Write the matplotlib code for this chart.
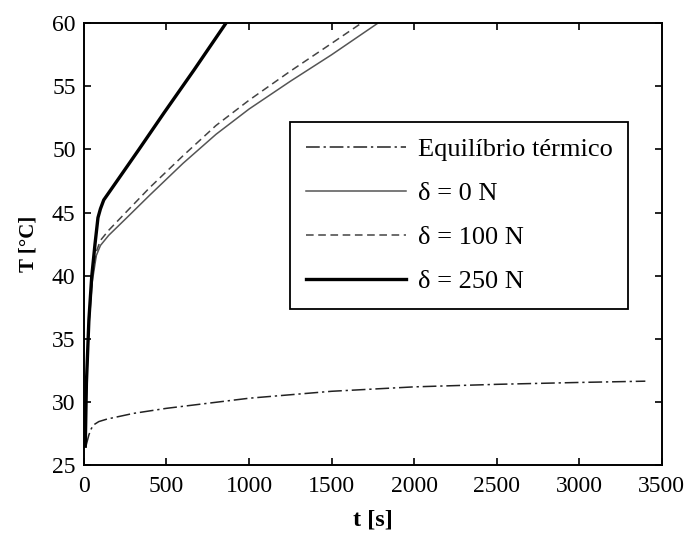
import matplotlib
matplotlib.use("Agg")
import matplotlib.pyplot as plt
import numpy as np

# Equilibrium (equilíbrio térmico)
t_eq = [12, 20, 30, 45, 60, 90, 140, 300, 500, 1000, 1500, 2000, 2500, 3000, 3400]
T_eq = [26.5, 26.9, 27.4, 27.9, 28.2, 28.45, 28.65, 29.1, 29.5, 30.3, 30.85, 31.2, 31.4, 31.55, 31.65]

# delta = 0 N
t_0 = [8, 15, 30, 50, 75, 100, 150, 260, 400, 600, 800, 1000, 1250, 1500, 1780]
T_0 = [26.5, 31.0, 36.0, 39.5, 41.6, 42.4, 43.2, 44.6, 46.4, 48.9, 51.2, 53.2, 55.4, 57.5, 60.0]

# delta = 100 N
t_100 = [8, 15, 30, 50, 75, 100, 150, 260, 400, 600, 800, 1000, 1250, 1500, 1680]
T_100 = [26.5, 31.2, 36.3, 39.8, 41.9, 42.8, 43.6, 45.1, 47.0, 49.5, 51.9, 53.9, 56.2, 58.4, 60.0]

# delta = 250 N
t_250 = [8, 15, 30, 47, 67, 85, 100, 120, 200, 333, 485, 667, 860]
T_250 = [26.5, 31.5, 36.5, 39.9, 42.5, 44.6, 45.3, 46.0, 47.5, 50.0, 52.9, 56.3, 60.0]

labels = ["Equilíbrio térmico", "δ = 0 N", "δ = 100 N", "δ = 250 N"]
xticks = [0, 500, 1000, 1500, 2000, 2500, 3000, 3500]
yticks = [25, 30, 35, 40, 45, 50, 55, 60]

plt.rcParams['font.family'] = ['Liberation Serif', 'DejaVu Serif']

fig = plt.figure(figsize=(6.88, 5.39), dpi=100)
ax = fig.add_axes([0.122, 0.137, 0.84, 0.820])

ax.plot(t_eq, T_eq, color='#222222', lw=1.1, dashes=(9, 2.5, 1.5, 2.5), label=labels[0])
ax.plot(t_0, T_0, color='#555555', lw=1.1, label=labels[1])
ax.plot(t_100, T_100, color='#444444', lw=1.1, dashes=(5, 3), label=labels[2])
ax.plot(t_250, T_250, color='black', lw=2.4, label=labels[3])

ax.set_xlim(0, 3500)
ax.set_ylim(25, 60)
ax.set_xticks(xticks)
ax.set_yticks(yticks)
ax.tick_params(direction='in', length=5, width=1.2, top=True, right=True,
               labelsize=17, pad=6, colors='black')
ax.tick_params(axis='x', pad=8)
for s in ax.spines.values():
    s.set_linewidth(1.4)

ax.set_xlabel("t [s]", fontsize=17.5, fontweight='bold', labelpad=9)
ax.set_ylabel("T [°C]", fontsize=15, fontweight='bold', labelpad=10)

leg = ax.legend(loc='upper left', bbox_to_anchor=(0.356, 0.776), fontsize=19,
                frameon=True, fancybox=False, edgecolor='black', framealpha=1,
                handlelength=3.8, handletextpad=0.45, labelspacing=0.77,
                borderpad=0.6, borderaxespad=0)
leg.get_frame().set_linewidth(1.3)

fig.savefig("out.png", dpi=100)
